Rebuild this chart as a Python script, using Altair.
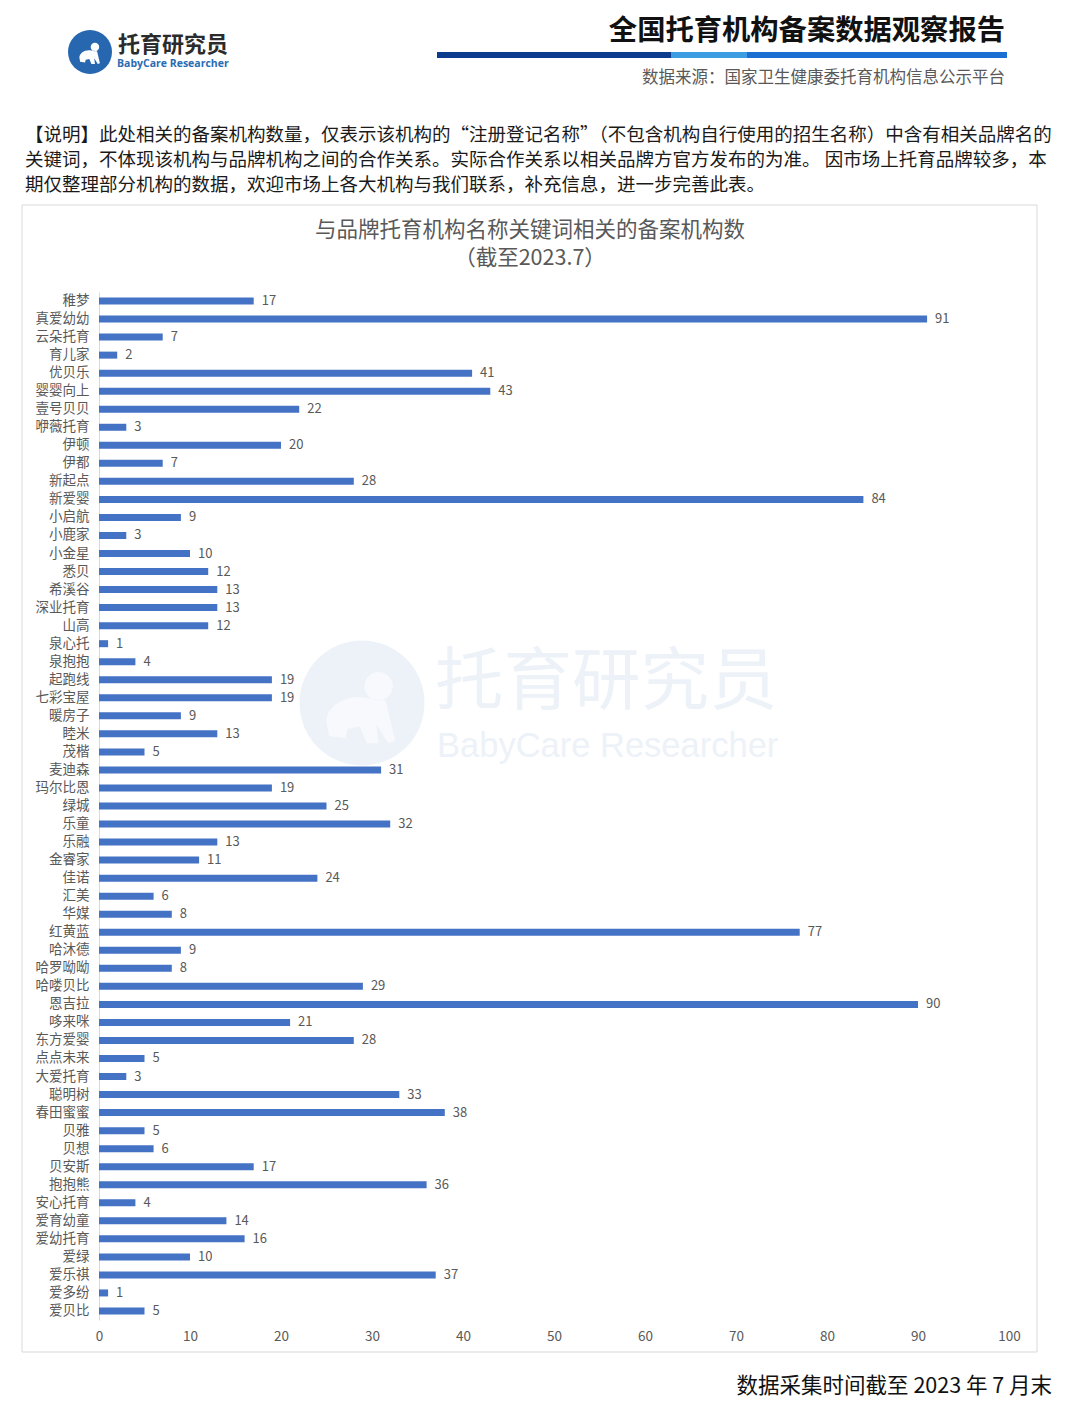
import altair as alt
import pandas as pd

brands = ["稚梦", "真爱幼幼", "云朵托育", "育儿家", "优贝乐", "婴婴向上", "壹号贝贝", "咿薇托育",
          "伊顿", "伊都", "新起点", "新爱婴", "小启航", "小鹿家", "小金星", "悉贝", "希溪谷",
          "深业托育", "山高", "泉心托", "泉抱抱", "起跑线", "七彩宝屋", "暖房子", "睦米", "茂楷",
          "麦迪森", "玛尔比恩", "绿城", "乐童", "乐融", "金睿家", "佳诺", "汇美", "华媒", "红黄蓝",
          "哈沐德", "哈罗呦呦", "哈喽贝比", "恩吉拉", "哆来咪", "东方爱婴", "点点未来", "大爱托育",
          "聪明树", "春田蜜蜜", "贝雅", "贝想", "贝安斯", "抱抱熊", "安心托育", "爱育幼童",
          "爱幼托育", "爱绿", "爱乐祺", "爱多纷", "爱贝比"]
counts = [17, 91, 7, 2, 41, 43, 22, 3, 20, 7, 28, 84, 9, 3, 10, 12, 13, 13, 12, 1, 4, 19, 19,
          9, 13, 5, 31, 19, 25, 32, 13, 11, 24, 6, 8, 77, 9, 8, 29, 90, 21, 28, 5, 3, 33, 38,
          5, 6, 17, 36, 4, 14, 16, 10, 37, 1, 5]
x_ticks = [0, 10, 20, 30, 40, 50, 60, 70, 80, 90, 100]

report_title = "全国托育机构备案数据观察报告"
source_text = "数据来源：国家卫生健康委托育机构信息公示平台"
logo_cn = "托育研究员"
logo_en = "BabyCare Researcher"
note_lines = [
    "【说明】此处相关的备案机构数量，仅表示该机构的“注册登记名称”（不包含机构自行使用的招生名称）中含有相关品牌名的",
    "关键词，不体现该机构与品牌机构之间的合作关系。实际合作关系以相关品牌方官方发布的为准。 因市场上托育品牌较多，本",
    "期仅整理部分机构的数据，欢迎市场上各大机构与我们联系，补充信息，进一步完善此表。",
]
chart_title = ["与品牌托育机构名称关键词相关的备案机构数", "（截至2023.7）"]
footer = "数据采集时间截至 2023 年 7 月末"

FONT = "Noto Sans CJK SC"
BAR = "#4472C4"
GRAY = "#595959"

df = pd.DataFrame({"brand": brands, "count": counts})
one = pd.DataFrame({"k": [0]})

BABY = ("M0.05,-0.5 A0.3,0.3 0 1,1 0.65,-0.5 A0.3,0.3 0 1,1 0.05,-0.5 Z "
        "M0.1,-0.25 C-0.3,-0.35 -0.75,-0.1 -0.75,0.25 L-0.7,0.55 L-0.35,0.6 L-0.3,0.4 "
        "L-0.05,0.35 L0.1,0.7 L0.35,0.7 L0.3,0.3 L0.55,0.7 L0.7,0.65 L0.5,-0.2 Z")


def txt(text, x, y, size, color, align="left", weight="normal", font=FONT):
    return alt.Chart(one).mark_text(
        text=text, align=align, baseline="middle", fontSize=size, color=color,
        fontWeight=weight, font=font
    ).encode(x=alt.value(x), y=alt.value(y))


def rect(x, x2, y, y2, color):
    return alt.Chart(one).mark_rect(color=color).encode(
        x=alt.value(x), x2=alt.value(x2), y=alt.value(y), y2=alt.value(y2))


box = alt.Chart(one).mark_rect(fillOpacity=0, stroke="#d9d9d9", strokeWidth=1).encode(
    x=alt.value(-77), x2=alt.value(938), y=alt.value(-87), y2=alt.value(1060))

# watermark
wm_circle = alt.Chart(one).mark_point(shape="circle", filled=True, size=15625, color="#edf2f9", opacity=1).encode(
    x=alt.value(263), y=alt.value(411))
wm_baby = alt.Chart(one).mark_point(shape=BABY, filled=True, size=9000, color="#f7f9fc", opacity=1).encode(
    x=alt.value(263), y=alt.value(418))
wm_cn = txt(logo_cn, 336, 391, 68.5, "#edf2f8")
wm_en = txt(logo_en, 338, 455, 34.5, "#edf2f8", font="Liberation Sans")

# header
logo_circle = alt.Chart(one).mark_point(shape="circle", filled=True, size=1936, color="#2767b0", opacity=1).encode(
    x=alt.value(-9), y=alt.value(-240))
logo_baby = alt.Chart(one).mark_point(shape=BABY, filled=True, size=800, color="white", opacity=1).encode(
    x=alt.value(-9), y=alt.value(-238))
logo_t1 = txt(logo_cn, 19, -247, 22, "#2b2b2b", weight="bold")
logo_t2 = txt(logo_en, 18, -228, 10.5, "#2a6cb3", weight="bold", font="Open Sans")
title_t = txt(report_title, 906, -260, 28.3, "#111111", align="right", weight="bold")
bar1 = rect(338, 572, -240, -234, "#0d3b8e")
bar2 = rect(572, 648, -240, -234, "#3d9de3")
bar3 = rect(648, 908, -240, -234, "#1b6fd3")
source_t = txt(source_text, 906, -214, 16.5, GRAY, align="right")
notes = [txt(line, -74, -157 + 25 * i, 18.5, "#1a1a1a") for i, line in enumerate(note_lines)]
ct1 = txt(chart_title[0], 431, -61, 21.5, GRAY, align="center")
ct2 = txt(chart_title[1], 431, -33, 21.5, GRAY, align="center")
foot = txt(footer, 953, 1095, 21.5, "#111111", align="right")

base = alt.Chart(df).encode(
    y=alt.Y("brand:N", sort=None, title=None,
            axis=alt.Axis(labelFontSize=13.5, labelColor=GRAY, labelFont=FONT, ticks=False,
                          domainColor="#d9d9d9", labelPadding=10)),
    x=alt.X("count:Q", title=None, scale=alt.Scale(domain=[0, 100], nice=False),
            axis=alt.Axis(values=x_ticks, labelFontSize=13.5, labelColor=GRAY, labelFont=FONT,
                          ticks=False, domain=False, grid=False, labelPadding=9,
                          labelFlush=False)),
)
bars = base.mark_bar(size=7, color=BAR)
labels = base.mark_text(align="left", baseline="middle", dx=8, fontSize=13, color=GRAY, font=FONT).encode(
    text="count:Q")

chart = alt.layer(
    box, wm_circle, wm_baby, wm_cn, wm_en,
    logo_circle, logo_baby, logo_t1, logo_t2, title_t, bar1, bar2, bar3, source_t,
    *notes, ct1, ct2, foot,
    bars, labels,
).properties(
    width=910, height=1028,
    background="white",
    autosize=alt.AutoSizeParams(type="none"),
    padding={"left": 91, "top": 284, "right": 55, "bottom": 85},
).configure_view(stroke=None, strokeWidth=0)

chart.save("out.html", embed_options={"renderer": "svg", "actions": False})
